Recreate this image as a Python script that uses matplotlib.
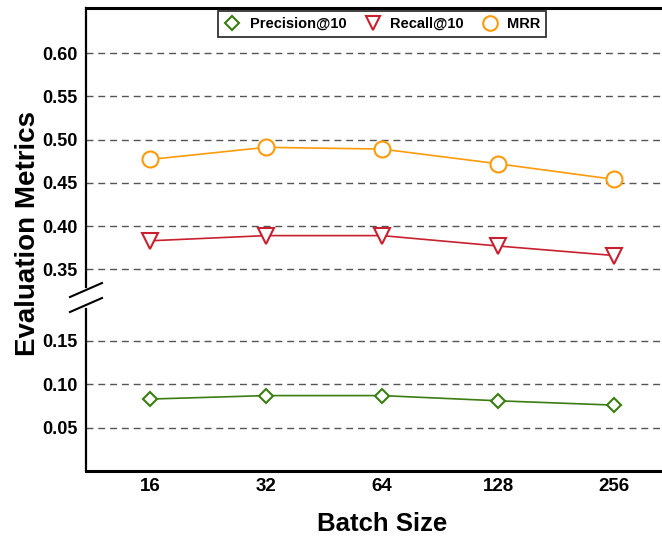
import matplotlib
matplotlib.use("Agg")
import matplotlib.pyplot as plt
from matplotlib.lines import Line2D

# Data
batch_sizes = ["16", "32", "64", "128", "256"]
precision = [0.083, 0.087, 0.087, 0.081, 0.076]
recall = [0.383, 0.389, 0.389, 0.377, 0.366]
mrr = [0.477, 0.491, 0.489, 0.472, 0.454]
top_ticks = [0.35, 0.40, 0.45, 0.50, 0.55, 0.60]
bottom_ticks = [0.05, 0.10, 0.15]

plt.rcParams['font.family'] = ['Liberation Sans', 'DejaVu Sans']
plt.rcParams['font.weight'] = 'bold'

W, H = 662, 542
fig = plt.figure(figsize=(W / 100, H / 100), dpi=100)

left = 86 / W
width = (678 - 86) / W
y_break = 300
y_top = 8
y_bot = 471
ax_top = fig.add_axes([left, (H - y_break) / H, width, (y_break - y_top) / H])
ax_bot = fig.add_axes([left, (H - y_bot) / H, width, (y_bot - y_break) / H])

x = list(range(len(batch_sizes)))
green = '#3a7d10'
red = '#c8202e'
orange = '#ff9a0a'

for ax in (ax_top, ax_bot):
    ax.plot(x, precision, color=green, lw=1.2, marker='D', ms=7.5,
            mfc='white', mec=green, mew=1.5, zorder=3)
    ax.plot(x, recall, color=red, lw=1.2, marker='v', ms=11,
            mfc='white', mec=red, mew=1.5, zorder=3)
    ax.plot(x, mrr, color=orange, lw=1.2, marker='o', ms=11.5,
            mfc='white', mec=orange, mew=1.5, zorder=3)
    ax.set_xlim(-0.55, 4.55)
    ax.yaxis.grid(True, color='#555555', lw=1.0, ls=(0, (5, 3.5)))
    ax.set_axisbelow(True)
    ax.tick_params(length=0, labelsize=13, pad=6)
    ax.spines['right'].set_visible(False)

ax_top.set_ylim(0.3146, 0.652)
ax_bot.set_ylim(0.0, 0.1973)
ax_top.set_yticks(top_ticks)
ax_top.set_yticklabels([f"{t:.2f}" for t in top_ticks], fontweight='bold', fontsize=13)
ax_bot.set_yticks(bottom_ticks)
ax_bot.set_yticklabels([f"{t:.2f}" for t in bottom_ticks], fontweight='bold', fontsize=13)

ax_top.spines['bottom'].set_visible(False)
ax_bot.spines['top'].set_visible(False)
ax_top.spines['top'].set_linewidth(2.2)
ax_bot.spines['bottom'].set_linewidth(2.2)
ax_top.spines['left'].set_linewidth(1.6)
ax_bot.spines['left'].set_linewidth(1.6)
ax_top.spines['left'].set_bounds(0.33, 0.652)
ax_bot.spines['left'].set_bounds(0.0, 0.187)
ax_top.set_xticks([])
ax_bot.set_xticks(x)
ax_bot.set_xticklabels(batch_sizes, fontweight='bold', fontsize=13.5)
ax_bot.tick_params(axis='x', pad=5)

# break marks
for yc in (290, 305):
    fig.add_artist(Line2D([70 / W, 102 / W], [(H - (yc + 7)) / H, (H - (yc - 7)) / H],
                          color='black', lw=1.5, transform=fig.transFigure))

ax_bot.set_xlabel("Batch Size", fontsize=18.5, fontweight='bold', labelpad=12)
fig.text(28 / W, (H - 233) / H, "Evaluation Metrics", rotation=90, ha='center',
         va='center', fontsize=20, fontweight='bold')

handles = [
    Line2D([], [], ls='none', marker='D', ms=7.0, mfc='white', mec=green, mew=1.5),
    Line2D([], [], ls='none', marker='v', ms=10.5, mfc='white', mec=red, mew=1.5),
    Line2D([], [], ls='none', marker='o', ms=10.5, mfc='white', mec=orange, mew=1.5),
]
leg = ax_top.legend(handles, ["Precision@10", "Recall@10", "MRR"], loc='upper center',
                    bbox_to_anchor=(0.5, 0.99), ncol=3, frameon=True, fancybox=False,
                    prop={'weight': 'bold', 'size': 10.5}, handlelength=1.2,
                    handletextpad=0.6, columnspacing=1.2, borderpad=0.4,
                    borderaxespad=0.0)
leg.get_frame().set_edgecolor('black')
leg.get_frame().set_linewidth(1.3)

fig.savefig("out.png", dpi=100)
